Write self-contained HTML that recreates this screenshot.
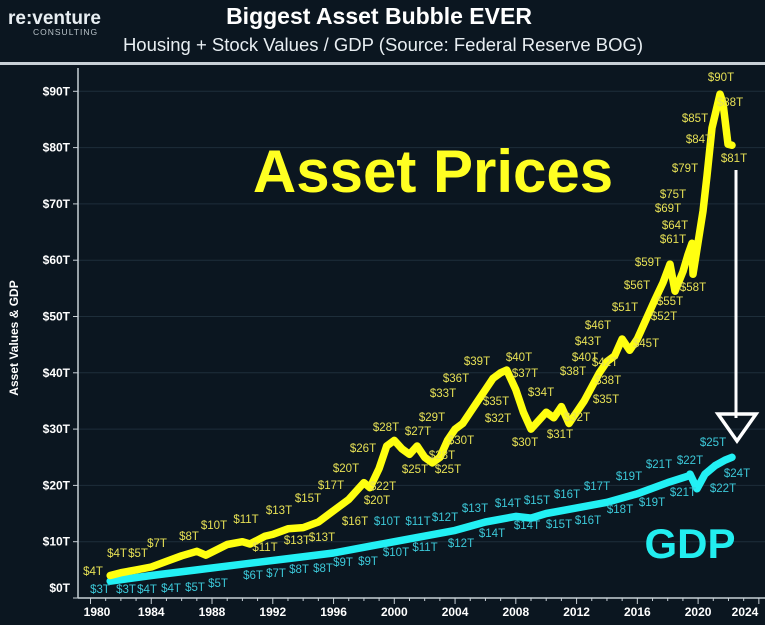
<!DOCTYPE html>
<html><head><meta charset="utf-8"><style>
html,body{margin:0;padding:0;background:#0b1620;}
svg{display:block}
text{font-family:"Liberation Sans",sans-serif;}
</style></head><body>
<svg id="s" width="765" height="625" viewBox="0 0 765 625" xmlns="http://www.w3.org/2000/svg">
<rect width="765" height="625" fill="#0b1620"/>
<text x="8" y="24" fill="#e8eef2" font-size="19" font-weight="bold">re:venture</text>
<text x="33" y="35" fill="#b8c2c8" font-size="8.5" letter-spacing="1">CONSULTING</text>
<text x="379" y="24" fill="#ffffff" font-size="23" font-weight="bold" text-anchor="middle">Biggest Asset Bubble EVER</text>
<text x="383" y="51" fill="#e8eef2" font-size="18.5" text-anchor="middle">Housing + Stock Values / GDP (Source: Federal Reserve BOG)</text>
<rect x="0" y="62" width="765" height="3" fill="#c8d0d6"/>
<g id="grid" stroke="#1e2e3a" stroke-width="1"></g>
<line x1="78" y1="68" x2="78" y2="598" stroke="#c8d0d6" stroke-width="1.5"/>
<line x1="78" y1="598" x2="765" y2="598" stroke="#c8d0d6" stroke-width="1.5"/>
<g id="ticks"></g>
<text transform="translate(18,338) rotate(-90)" fill="#ffffff" font-size="12" font-weight="bold" text-anchor="middle">Asset Values &amp; GDP</text>
<text x="433" y="192" fill="#ffff22" font-size="60" font-weight="bold" text-anchor="middle">Asset Prices</text>
<text x="690" y="558" fill="#22eef0" font-size="42" font-weight="bold" text-anchor="middle">GDP</text>
<line x1="736" y1="170" x2="736" y2="418" stroke="#ffffff" stroke-width="3"/>
<polygon points="718,414 756,414 737,441" fill="none" stroke="#ffffff" stroke-width="3.5"/>
<polyline id="gdp" fill="none" stroke="#22f0f4" stroke-width="7.5" stroke-linejoin="round" stroke-linecap="round"/>
<polyline id="ast" fill="none" stroke="#ffff10" stroke-width="7.5" stroke-linejoin="round" stroke-linecap="round"/>
<g id="lab" font-size="11.5"></g>
</svg>
<script>
var NS="http://www.w3.org/2000/svg";
function X(y){return 90.5+15.19*(y-1980);}
function Y(v){return 598-5.63*v;}
var g=document.getElementById('grid'),t=document.getElementById('ticks');
for(var v=0;v<=90;v+=10){var l=document.createElementNS(NS,'line');l.setAttribute('x1',78);l.setAttribute('x2',765);l.setAttribute('y1',Y(v));l.setAttribute('y2',Y(v));if(v>0)g.appendChild(l);
var tx=document.createElementNS(NS,'text');tx.setAttribute('x',70);tx.setAttribute('y',(v==0?592:Y(v)+4));tx.setAttribute('fill','#fff');tx.setAttribute('font-size','12');tx.setAttribute('font-weight','bold');tx.setAttribute('text-anchor','end');tx.textContent='$'+v+'T';t.appendChild(tx);
var tk=document.createElementNS(NS,'line');tk.setAttribute('x1',73);tk.setAttribute('x2',78);tk.setAttribute('y1',Y(v));tk.setAttribute('y2',Y(v));tk.setAttribute('stroke','#c8d0d6');t.appendChild(tk);}
for(var yr=1980;yr<=2024;yr++){var tk=document.createElementNS(NS,'line');tk.setAttribute('x1',X(yr));tk.setAttribute('x2',X(yr));tk.setAttribute('y1',598);tk.setAttribute('y2',yr%4==0?604:601);tk.setAttribute('stroke','#c8d0d6');t.appendChild(tk);
if(yr%4==0){var tx=document.createElementNS(NS,'text');tx.setAttribute('x',yr==2024?745:(yr==1980?97:X(yr)));tx.setAttribute('y',616);tx.setAttribute('fill','#fff');tx.setAttribute('font-size','12');tx.setAttribute('font-weight','bold');tx.setAttribute('text-anchor','middle');tx.textContent=yr;t.appendChild(tx);}}
var A=[[1981.3,4],[1982,4.5],[1983,5],[1984,5.5],[1985,6.5],[1986,7.5],[1987,8.3],[1987.6,7.6],[1989,9.5],[1990,10],[1990.5,9.6],[1991.5,11],[1992,11.3],[1993,12.3],[1994,12.5],[1995,13.5],[1996,15.5],[1997,17.5],[1998,20.5],[1998.4,19.6],[1999,23],[1999.5,27],[2000,28],[2000.5,26.5],[2001,25.5],[2001.5,27],[2002,25],[2002.5,24],[2003,25],[2003.5,28],[2004,30],[2004.5,31],[2005,33],[2005.5,35],[2006,37],[2006.5,39],[2007,40],[2007.4,40.5],[2008,37],[2008.5,33],[2009,30],[2009.5,31.5],[2010,33],[2010.5,32],[2011,34],[2011.5,31],[2012,33],[2012.5,35],[2013,37.5],[2013.5,40],[2014,42],[2014.5,43],[2015,46],[2015.5,44],[2016,46],[2016.5,49]];
var pts=A.map(function(p){return X(p[0]).toFixed(1)+','+Y(p[1]).toFixed(1)});
[[655,53],[663,56],[670,59.3],[675,54.5],[683,58],[688,61],[692,63],[693,57.5],[703,68.7],[707,75],[712,83.5],[720,89.5],[723,87.9],[728,80.6],[732,80.4]].forEach(function(p){pts.push(p[0]+','+Y(p[1]).toFixed(1))});
document.getElementById('ast').setAttribute('points',pts.join(' '));
var G=[[1981.3,3],[1984,4],[1987,5],[1990,6],[1993,7],[1996,8],[1998,9],[2000,10],[2002,11],[2004,12],[2006,13.5],[2008,14.5],[2009,14.2],[2010,15],[2012,16],[2014,17],[2016,18.5],[2018,20.5],[2019.5,21.8]];
var gp=G.map(function(p){return X(p[0]).toFixed(1)+','+Y(p[1]).toFixed(1)});
[[690,22],[697,19.4],[705,22],[715,23.5],[725,24.5],[732,25]].forEach(function(p){gp.push(p[0]+','+Y(p[1]).toFixed(1))});
document.getElementById('gdp').setAttribute('points',gp.join(' '));
var yl=[[93,571,4],[117,553,4],[138,553,5],[157,543,7],[189,536,8],[214,525,10],[246,519,11],[279,510,13],[308,498,15],[331,485,17],[346,468,20],[383,486,22],[377,500,20],[355,521,16],[265,547,11],[297,540,13],[322,537,13],[363,448,26],[386,427,28],[418,431,27],[415,469,25],[448,469,25],[442,455,28],[461,440,30],[432,417,29],[443,393,33],[456,378,36],[477,361,39],[519,357,40],[525,373,37],[496,401,35],[498,418,32],[541,392,34],[525,442,30],[560,434,31],[577,417,32],[606,399,35],[608,380,38],[573,371,38],[585,357,40],[588,341,43],[605,362,42],[598,325,46],[646,343,45],[625,307,51],[664,316,52],[670,301,55],[637,285,56],[693,287,58],[648,262,59],[673,239,61],[675,225,64],[668,208,69],[673,194,75],[685,168,79],[699,139,84],[695,118,85],[730,102,88],[721,77,90],[734,158,81]];
var cl=[[100,589,3],[126,589,3],[147,589,4],[171,588,4],[195,587,5],[218,583,5],[253,575,6],[276,573,7],[299,569,8],[323,568,8],[343,562,9],[368,561,9],[396,552,10],[387,521,10],[418,521,11],[445,517,12],[425,547,11],[461,543,12],[475,508,13],[508,503,14],[537,500,15],[492,533,14],[527,525,14],[559,524,15],[567,494,16],[597,486,17],[588,520,16],[620,509,18],[629,476,19],[652,502,19],[659,464,21],[690,460,22],[683,492,21],[723,488,22],[737,473,24],[713,442,25]];
var L=document.getElementById('lab');
function add(a,c){a.forEach(function(p){var tx=document.createElementNS(NS,'text');tx.setAttribute('x',p[0]);tx.setAttribute('y',p[1]+4);tx.setAttribute('fill',c);tx.setAttribute('text-anchor','middle');tx.textContent='$'+p[2]+'T';L.appendChild(tx);});}
add(yl,'#e6e055');add(cl,'#3cc8d8');
</script>
</body></html>
